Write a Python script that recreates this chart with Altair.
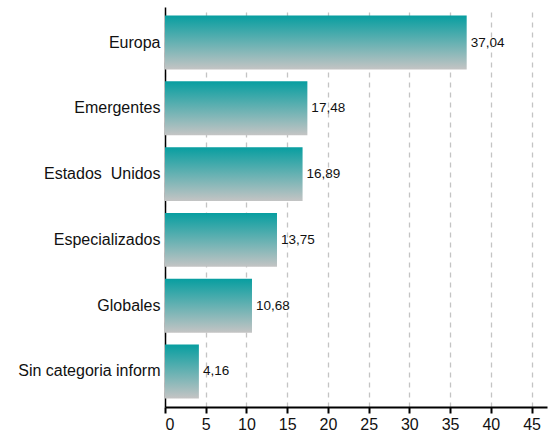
import altair as alt
import pandas as pd

categories = ["Europa", "Emergentes", "Estados\u00a0 Unidos", "Especializados", "Globales", "Sin categoria inform"]
values = [37.04, 17.48, 16.89, 13.75, 10.68, 4.16]
x_ticks = [0, 5, 10, 15, 20, 25, 30, 35, 40, 45]

df = pd.DataFrame({"cat": categories, "val": values})
df["label"] = [f"{v:.2f}".replace(".", ",") for v in values]

FONT = "Liberation Sans"

y_enc = alt.Y("cat:N", sort=categories, title=None,
              scale=alt.Scale(paddingInner=0.18, paddingOuter=0.13),
              axis=alt.Axis(domain=True, domainColor="#000", domainWidth=1.5, ticks=False,
                            labelFont=FONT, labelFontSize=16, labelColor="#111",
                            labelPadding=5, grid=False))
x_enc = alt.X("val:Q", title=None,
              scale=alt.Scale(domain=[0, 46.9], nice=False, zero=True),
              axis=alt.Axis(values=x_ticks, domain=True, domainColor="#000", domainWidth=2,
                            ticks=True, tickColor="#000", tickWidth=2, tickSize=6,
                            labelFont=FONT, labelFontSize=16, labelColor="#111",
                            labelPadding=3, grid=True, gridColor="#c4c4c4",
                            gridDash=[5, 5], gridWidth=1.3))

bars = alt.Chart(df).mark_bar(
    color=alt.Gradient(gradient="linear", x1=0, x2=0, y1=0, y2=1,
                       stops=[alt.GradientStop(color="#079ea0", offset=0),
                              alt.GradientStop(color="#c4c4c4", offset=1)])
).encode(y=y_enc, x=x_enc)

text = alt.Chart(df).mark_text(align="left", baseline="middle", dx=4, font=FONT,
                               fontSize=13.5, color="#111").encode(
    y=alt.Y("cat:N", sort=categories), x="val:Q", text="label:N")

chart = alt.layer(bars, text).properties(
    width=382, height=400,
    autosize=alt.AutoSizeParams(type="none"),
    padding={"left": 165, "top": 7, "right": 11, "bottom": 28},
).configure_view(stroke=None)

chart.save("out.html", embed_options={"renderer": "svg", "actions": False})
